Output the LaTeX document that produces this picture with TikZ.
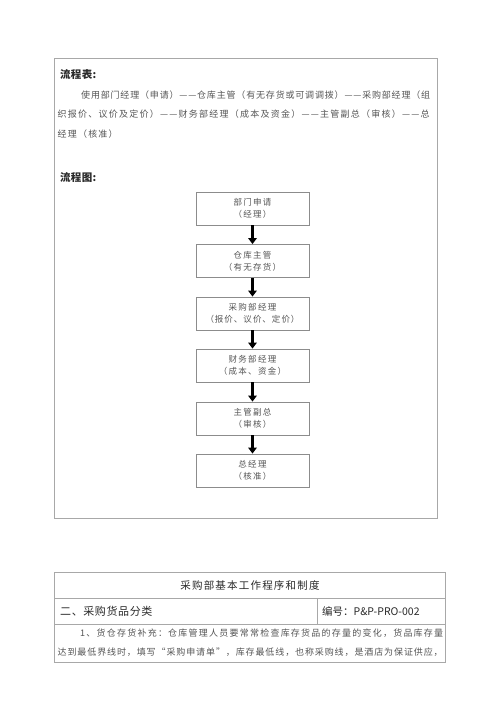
\documentclass[tikz,border=0pt]{standalone}
\usepackage{fontspec}
\setmainfont{Noto Sans CJK SC}
\usetikzlibrary{arrows.meta}
\makeatletter
% justify a string of characters to a given width
\def\spreadto#1#2{\hbox to #1{\sp@first#2\relax}}
\def\sp@first#1{#1\sp@next}
\def\sp@next#1{\ifx#1\relax\else\hfil#1\expandafter\sp@next\fi}
% letter-spaced string
\def\ls#1#2{\def\ls@k{#1}\hbox{\ls@first#2\relax}}
\def\ls@first#1{#1\ls@next}
\def\ls@next#1{\ifx#1\relax\else\kern\ls@k#1\expandafter\ls@next\fi}
\makeatother
\definecolor{framegray}{HTML}{A8A8A8}
\definecolor{boxgray}{HTML}{8C8C8C}
\definecolor{txt}{HTML}{555555}
\definecolor{head}{HTML}{2A2A2A}
\tikzset{
  txtline/.style={anchor=west,inner sep=0pt,text=txt,font=\fontsize{9}{11}\selectfont},
  heading/.style={anchor=west,inner sep=0pt,text=head,font=\fontsize{10.5}{12}\selectfont\bfseries},
  cellhead/.style={inner sep=0pt,text=head,font=\fontsize{11}{13}\selectfont},
  flowbox/.style={draw=boxgray,line width=0.8pt,minimum width=113pt,minimum height=33pt,
    inner sep=0pt,align=center,text=txt,font=\fontsize{8.5}{12}\selectfont},
  flowarrow/.style={line width=2.8pt,draw=black,-{Triangle[length=6pt,width=8.5pt]}},
  frame/.style={draw=framegray,line width=0.8pt},
}
\begin{document}
\begin{tikzpicture}[x=1pt,y=-1pt]
\useasboundingbox[fill=white] (0,0) rectangle (500,707);
% upper frame
\draw[frame] (54.5,58.5) rectangle (437,518);
\node[heading] (h1) at (60,74) {\ls{0.3pt}{流程表:}};
\node[txtline] (p1) at (81,95) {\spreadto{349pt}{使用部门经理（申请）——仓库主管（有无存货或可调调拨）——采购部经理（组}};
\node[txtline] (p2) at (57.5,114.5) {\spreadto{372pt}{织报价、议价及定价）——财务部经理（成本及资金）——主管副总（审核）——总}};
\node[txtline] (p3) at (57.5,134) {\ls{1.2pt}{经理（核准）}};
\node[heading] (h2) at (60,177) {\ls{0.3pt}{流程图:}};
% flow chart
\node[flowbox] (b1) at (252.5,208.5) {\ls{1.3pt}{部门申请}\\\ls{1.3pt}{（经理）}};
\node[flowbox] (b2) at (252.5,261) {\ls{1.3pt}{仓库主管}\\\ls{1.3pt}{（有无存货）}};
\node[flowbox] (b3) at (252.5,313.5) {\ls{1.3pt}{采购部经理}\\\ls{1pt}{（报价、议价、定价）}};
\node[flowbox] (b4) at (252.5,365.5) {\ls{1.3pt}{财务部经理}\\\ls{1.3pt}{（成本、资金）}};
\node[flowbox] (b5) at (252.5,418.5) {\ls{1.3pt}{主管副总}\\\ls{1.3pt}{（审核）}};
\node[flowbox] (b6) at (252.5,470.5) {\ls{1.3pt}{总经理}\\\ls{1.3pt}{（核准）}};
\draw[flowarrow] (b1.south) -- (b2.north);
\draw[flowarrow] (b2.south) -- (b3.north);
\draw[flowarrow] (b3.south) -- (b4.north);
\draw[flowarrow] (b4.south) -- (b5.north);
\draw[flowarrow] (b5.south) -- (b6.north);
% lower table
\draw[frame] (54.5,572) rectangle (445,662.5);
\draw[frame] (54.5,598) -- (445,598);
\draw[frame] (54.5,624) -- (445,624);
\draw[frame] (317,598) -- (317,624);
\node[cellhead,anchor=center,font=\fontsize{10.5}{12}\selectfont] (t1) at (250,585) {\ls{1.2pt}{采购部基本工作程序和制度}};
\node[cellhead,anchor=west] (t2) at (60,611) {\ls{0.6pt}{二、采购货品分类}};
\node[cellhead,anchor=west,font=\fontsize{10.5}{13}\selectfont] (t3) at (322,611) {编号：P\&P-PRO-002};
\node[txtline] (q1) at (80,633) {\spreadto{363pt}{1、货仓存货补充：仓库管理人员要常常检查库存货品的存量的变化，货品库存量}};
\node[txtline] (q2) at (57.5,652) {\spreadto{385pt}{达到最低界线时，填写“采购申请单”，库存最低线，也称采购线，是酒店为保证供应，}};
\end{tikzpicture}
\end{document}
